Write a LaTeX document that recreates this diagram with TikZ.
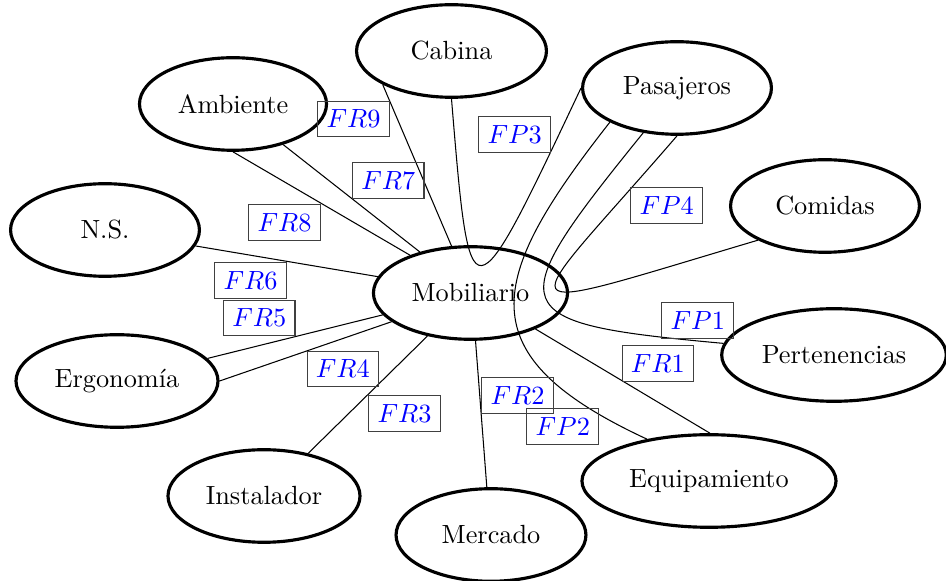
\documentclass[tikz,border=0pt]{standalone}
\usetikzlibrary{shapes.geometric}
\begin{document}
\begin{tikzpicture}[x=0.3802pt,y=-0.3802pt,
  ent/.style={ellipse,draw,line width=1.2pt,inner sep=0pt,minimum height=35.2pt},
  lab/.style={draw=black!75,line width=0.4pt,text=blue,inner sep=0.3333em},
  conn/.style={line width=0.4pt}]
\useasboundingbox (0,0) rectangle (946,581);
% entities
\node[ent,minimum width=72.2pt] (cab) at (451.5,51) {Cabina};
\node[ent,minimum width=71.1pt] (amb) at (233,104) {Ambiente};
\node[ent,minimum width=71.8pt] (pas) at (677,88) {Pasajeros};
\node[ent,minimum width=71.8pt] (ns) at (105,230) {N.S.};
\node[ent,minimum width=71.8pt] (com) at (825,206) {Comidas};
\node[ent,minimum width=73.8pt] (mob) at (470.5,293) {Mobiliario};
\node[ent,minimum width=76.8pt] (erg) at (117,381) {Ergonomía};
\node[ent,minimum width=85.4pt] (per) at (834,355) {Pertenencias};
\node[ent,minimum width=73pt] (ins) at (264,496) {Instalador};
\node[ent,minimum width=72.2pt] (mer) at (491,535) {Mercado};
\node[ent,minimum width=96.6pt] (equ) at (709,481) {Equipamiento};
% straight connectors
\draw[conn] (cab.206) -- (mob.112);
\draw[conn] (amb.270) -- (mob.148);
\draw[conn] (amb.321) -- (mob.141);
\draw[conn] (ns.350) -- (mob.170);
\draw[conn] (erg.14) -- (mob.194);
\draw[conn] (erg.0) -- (mob.200);
\draw[conn] (ins.44) -- (mob.225);
\draw[conn] (mob.276) -- (mer.95);
\draw[conn] (mob.331) -- (equ.89);
% curved connectors
\draw[conn] (cab.south) .. controls (470,323) .. (pas.west);
\draw[conn] (pas.207.5) .. controls (486,280) and (466,355) .. (equ.146.5);
\draw[conn] (pas.233.4) .. controls (498,312) and (501,323) .. (per.174.5);
\draw[conn] (pas.270) .. controls (514.5,324) and (489,320) .. (com.207);
% labels
\node[lab] (fr9) at (353.5,119) {$FR9$};
\node[lab] (fr7) at (388.3,180.3) {$FR7$};
\node[lab] (fr8) at (284.5,222.3) {$FR8$};
\node[lab] (fp3) at (514.7,134.5) {$FP3$};
\node[lab] (fp4) at (666.7,205.5) {$FP4$};
\node[lab] (fp1) at (697.8,320.3) {$FP1$};
\node[lab] (fr1) at (657.8,363.7) {$FR1$};
\node[lab] (fr2) at (517.5,395.5) {$FR2$};
\node[lab] (fp2) at (562.8,426.7) {$FP2$};
\node[lab] (fr6) at (250.5,280.3) {$FR6$};
\node[lab] (fr5) at (259.3,317.8) {$FR5$};
\node[lab] (fr4) at (342.8,368.8) {$FR4$};
\node[lab] (fr3) at (404.5,413.3) {$FR3$};
\end{tikzpicture}
\end{document}
